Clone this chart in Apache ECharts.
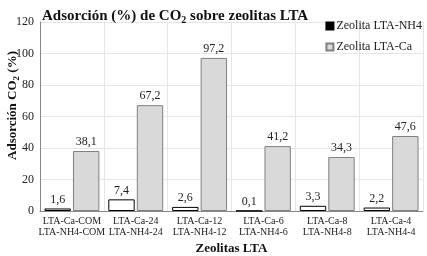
<!DOCTYPE html>
<html>
<head>
<meta charset="utf-8">
<script src="https://cdn.jsdelivr.net/npm/echarts@6/dist/echarts.min.js"></script>
<style>
  html, body { margin: 0; padding: 0; background: #fff; }
  #chart { width: 427px; height: 256px; }
</style>
</head>
<body>
<div id="chart"></div>
<script>
var categories = ['LTA-Ca-COM\nLTA-NH4-COM', 'LTA-Ca-24\nLTA-NH4-24', 'LTA-Ca-12\nLTA-NH4-12',
                  'LTA-Ca-6\nLTA-NH4-6', 'LTA-Ca-8\nLTA-NH4-8', 'LTA-Ca-4\nLTA-NH4-4'];
var nh4Values = [1.6, 7.4, 2.6, 0.1, 3.3, 2.2];
var caValues = [38.1, 67.2, 97.2, 41.2, 34.3, 47.6];
var yTicks = [0, 20, 40, 60, 80, 100, 120];

var serif = '"Liberation Serif", "DejaVu Serif", serif';
var chart = echarts.init(document.getElementById('chart'));

// etiqueta con coma decimal
function commaLabel(p) {
    return p.value.toFixed(1).replace('.', ',');
}

chart.setOption({
    animation: false,
    textStyle: { fontFamily: serif, color: '#222' },
    title: {
        text: '{a|Adsorción (%) de CO}{s|2}{a| sobre zeolitas LTA}',
        left: 37,
        top: 2,
        textStyle: {
            rich: {
                a: { fontFamily: serif, fontSize: 15, fontWeight: 'bold', color: '#111' },
                s: { fontFamily: serif, fontSize: 10, fontWeight: 'bold', color: '#111', padding: [8, 0, 0, 0] }
            }
        }
    },
    legend: {
        orient: 'vertical',
        right: 0,
        top: 15,
        itemWidth: 7,
        itemHeight: 7,
        itemGap: 9,
        icon: 'rect',
        textStyle: { fontFamily: serif, fontSize: 12, color: '#222', padding: [0, 0, 0, -2] },
        data: [
            { name: 'Zeolita LTA-NH4', itemStyle: { color: '#000', borderColor: '#000' } },
            { name: 'Zeolita LTA-Ca' }
        ]
    },
    grid: { left: 40, right: 4, top: 22, bottom: 45, outerBoundsMode: 'none', containLabel: false },
    xAxis: {
        type: 'category',
        data: categories,
        name: 'Zeolitas LTA',
        nameLocation: 'middle',
        nameGap: 31,
        nameMoveOverlap: false,
        nameTextStyle: { fontFamily: serif, fontSize: 13, fontWeight: 'bold', color: '#111' },
        axisLine: { lineStyle: { color: '#888' } },
        axisTick: { show: false },
        axisLabel: { interval: 0, fontFamily: serif, fontSize: 10, color: '#222', lineHeight: 11, margin: 5 },
        splitLine: { show: true, interval: 0, lineStyle: { color: '#e6e6e6' } }
    },
    yAxis: {
        type: 'value',
        min: yTicks[0],
        max: yTicks[yTicks.length - 1],
        interval: 20,
        name: '{a|Adsorción CO}{s|2}{a| (%)}',
        nameLocation: 'middle',
        nameGap: 19,
        nameMoveOverlap: false,
        nameTextStyle: {
            padding: [0, 0, 0, 22],
            rich: {
                a: { fontFamily: serif, fontSize: 13, fontWeight: 'bold', color: '#111' },
                s: { fontFamily: serif, fontSize: 9, fontWeight: 'bold', color: '#111', padding: [7, 0, 0, 0] }
            }
        },
        axisLine: { show: true, lineStyle: { color: '#888' } },
        axisTick: { show: false },
        axisLabel: { fontFamily: serif, fontSize: 12, color: '#222', margin: 6 },
        splitLine: { lineStyle: { color: '#e6e6e6' } }
    },
    series: [
        {
            name: 'Zeolita LTA-NH4',
            type: 'bar',
            data: nh4Values,
            barGap: '8%',
            barCategoryGap: '14%',
            itemStyle: { color: '#fff', borderColor: '#000', borderWidth: 1 },
            label: { show: true, position: 'top', distance: 3, fontFamily: serif, fontSize: 12, color: '#222', formatter: commaLabel }
        },
        {
            name: 'Zeolita LTA-Ca',
            type: 'bar',
            data: caValues,
            itemStyle: { color: '#d9d9d9', borderColor: '#808080', borderWidth: 1 },
            label: { show: true, position: 'top', distance: 3, fontFamily: serif, fontSize: 12, color: '#222', formatter: commaLabel }
        }
    ]
});
</script>
</body>
</html>
